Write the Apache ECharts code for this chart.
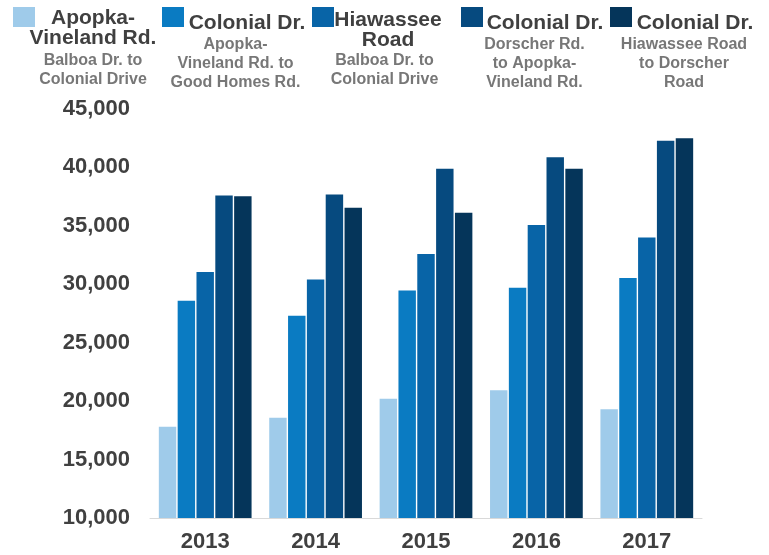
<!DOCTYPE html>
<html>
<head>
<meta charset="utf-8">
<script src="https://cdn.jsdelivr.net/npm/echarts@6/dist/echarts.min.js"></script>
<style>
  html, body { margin: 0; padding: 0; background: #ffffff; }
  #chart { width: 769px; height: 555px; }
</style>
</head>
<body>
<div id="chart"></div>
<script>
// Annual average daily traffic by road segment
const years = ['2013', '2014', '2015', '2016', '2017'];

const apopkaVineland = [17800, 18580, 20200, 20930, 19300];
const colonialGoodHomes = [28600, 27300, 29470, 29700, 30530];
const hiawasseeRoad = [31050, 30410, 32590, 35080, 34010];
const colonialDorscher = [37600, 37680, 39880, 40880, 42280];
const colonialHiawassee = [37530, 36560, 36130, 39880, 42500];

const yTicks = { min: 10000, max: 45000, step: 5000 };

const seriesNames = [
  'Apopka-Vineland Rd. (Balboa Dr. to Colonial Drive)',
  'Colonial Dr. (Apopka-Vineland Rd. to Good Homes Rd.)',
  'Hiawassee Road (Balboa Dr. to Colonial Drive)',
  'Colonial Dr. (Dorscher Rd. to Apopka-Vineland Rd.)',
  'Colonial Dr. (Hiawassee Road to Dorscher Road)'
];
const seriesValues = [apopkaVineland, colonialGoodHomes, hiawasseeRoad, colonialDorscher, colonialHiawassee];
const colors = ['#9fcbea', '#0a7bc2', '#0864a7', '#064a7f', '#05355a'];

// Legend captions: bold title lines and grey segment description
const titleLines = [
  ['Apopka-', 'Vineland Rd.'],
  ['Colonial Dr.'],
  ['Hiawassee', 'Road'],
  ['Colonial Dr.'],
  ['Colonial Dr.']
];
const subtitleLines = [
  ['Balboa Dr. to', 'Colonial Drive'],
  ['Apopka-', 'Vineland Rd. to', 'Good Homes Rd.'],
  ['Balboa Dr. to', 'Colonial Drive'],
  ['Dorscher Rd.', 'to Apopka-', 'Vineland Rd.'],
  ['Hiawassee Road', 'to Dorscher', 'Road']
];

const FONT = '"Liberation Sans", Arial, Helvetica, sans-serif';

// legend layout: icon left edge, title centre x / first-line centre y, subtitle centre x / first-line centre y
const legendLayout = [
  { icon: 13,  tx: 93,  ty: 18.5, sx: 93,    sy: 61 },
  { icon: 162, tx: 247, ty: 23,   sx: 235.5, sy: 45 },
  { icon: 312, tx: 388, ty: 20.5, sx: 384.5, sy: 61 },
  { icon: 461, tx: 545, ty: 23,   sx: 534.5, sy: 45 },
  { icon: 610, tx: 695, ty: 23,   sx: 684,   sy: 45 }
];

const TITLE_LH = 19.5;
const SUB_LH = 18.8;

const legends = seriesNames.map((name, i) => ({
  data: [name],
  left: legendLayout[i].icon,
  top: 7,
  padding: 0,
  itemWidth: 22,
  itemHeight: 20,
  icon: 'rect',
  selectedMode: false,
  formatter: () => ''
}));

// caption text elements, each centred on its anchor x
const graphics = [];
legendLayout.forEach((L, i) => {
  graphics.push({
    type: 'text',
    x: L.tx,
    y: L.ty - TITLE_LH / 2,
    silent: true,
    style: {
      text: titleLines[i].join('\n'),
      fill: '#404040',
      font: 'bold 21px ' + FONT,
      lineHeight: TITLE_LH,
      textAlign: 'center',
      align: 'center',
      textVerticalAlign: 'top',
      verticalAlign: 'top'
    }
  });
  graphics.push({
    type: 'text',
    x: L.sx,
    y: L.sy - SUB_LH / 2,
    silent: true,
    style: {
      text: subtitleLines[i].join('\n'),
      fill: '#777777',
      font: 'bold 16px ' + FONT,
      lineHeight: SUB_LH,
      textAlign: 'center',
      align: 'center',
      textVerticalAlign: 'top',
      verticalAlign: 'top'
    }
  });
});

const chart = echarts.init(document.getElementById('chart'), null, { renderer: 'canvas' });

chart.setOption({
  animation: false,
  backgroundColor: '#ffffff',
  textStyle: { fontFamily: FONT },
  legend: legends,
  graphic: graphics,
  grid: { left: 150, right: 67, top: 109, bottom: 37, containLabel: false },
  xAxis: {
    type: 'category',
    data: years,
    axisLine: { show: true, lineStyle: { color: '#d9d9d9', width: 1 } },
    axisTick: { show: false },
    axisLabel: { color: '#404040', fontSize: 22, fontWeight: 'bold', fontFamily: FONT, margin: 13 }
  },
  yAxis: {
    type: 'value',
    min: yTicks.min,
    max: yTicks.max,
    interval: yTicks.step,
    axisLine: { show: false },
    axisTick: { show: false },
    splitLine: { show: false },
    axisLabel: {
      color: '#404040', fontSize: 22, fontWeight: 'bold', fontFamily: FONT, margin: 20,
      formatter: v => v.toLocaleString('en-US')
    }
  },
  series: seriesNames.map((name, i) => ({
    name,
    type: 'bar',
    data: seriesValues[i],
    barGap: '8%',
    barCategoryGap: '16%',
    itemStyle: { color: colors[i] }
  }))
});
</script>
</body>
</html>
